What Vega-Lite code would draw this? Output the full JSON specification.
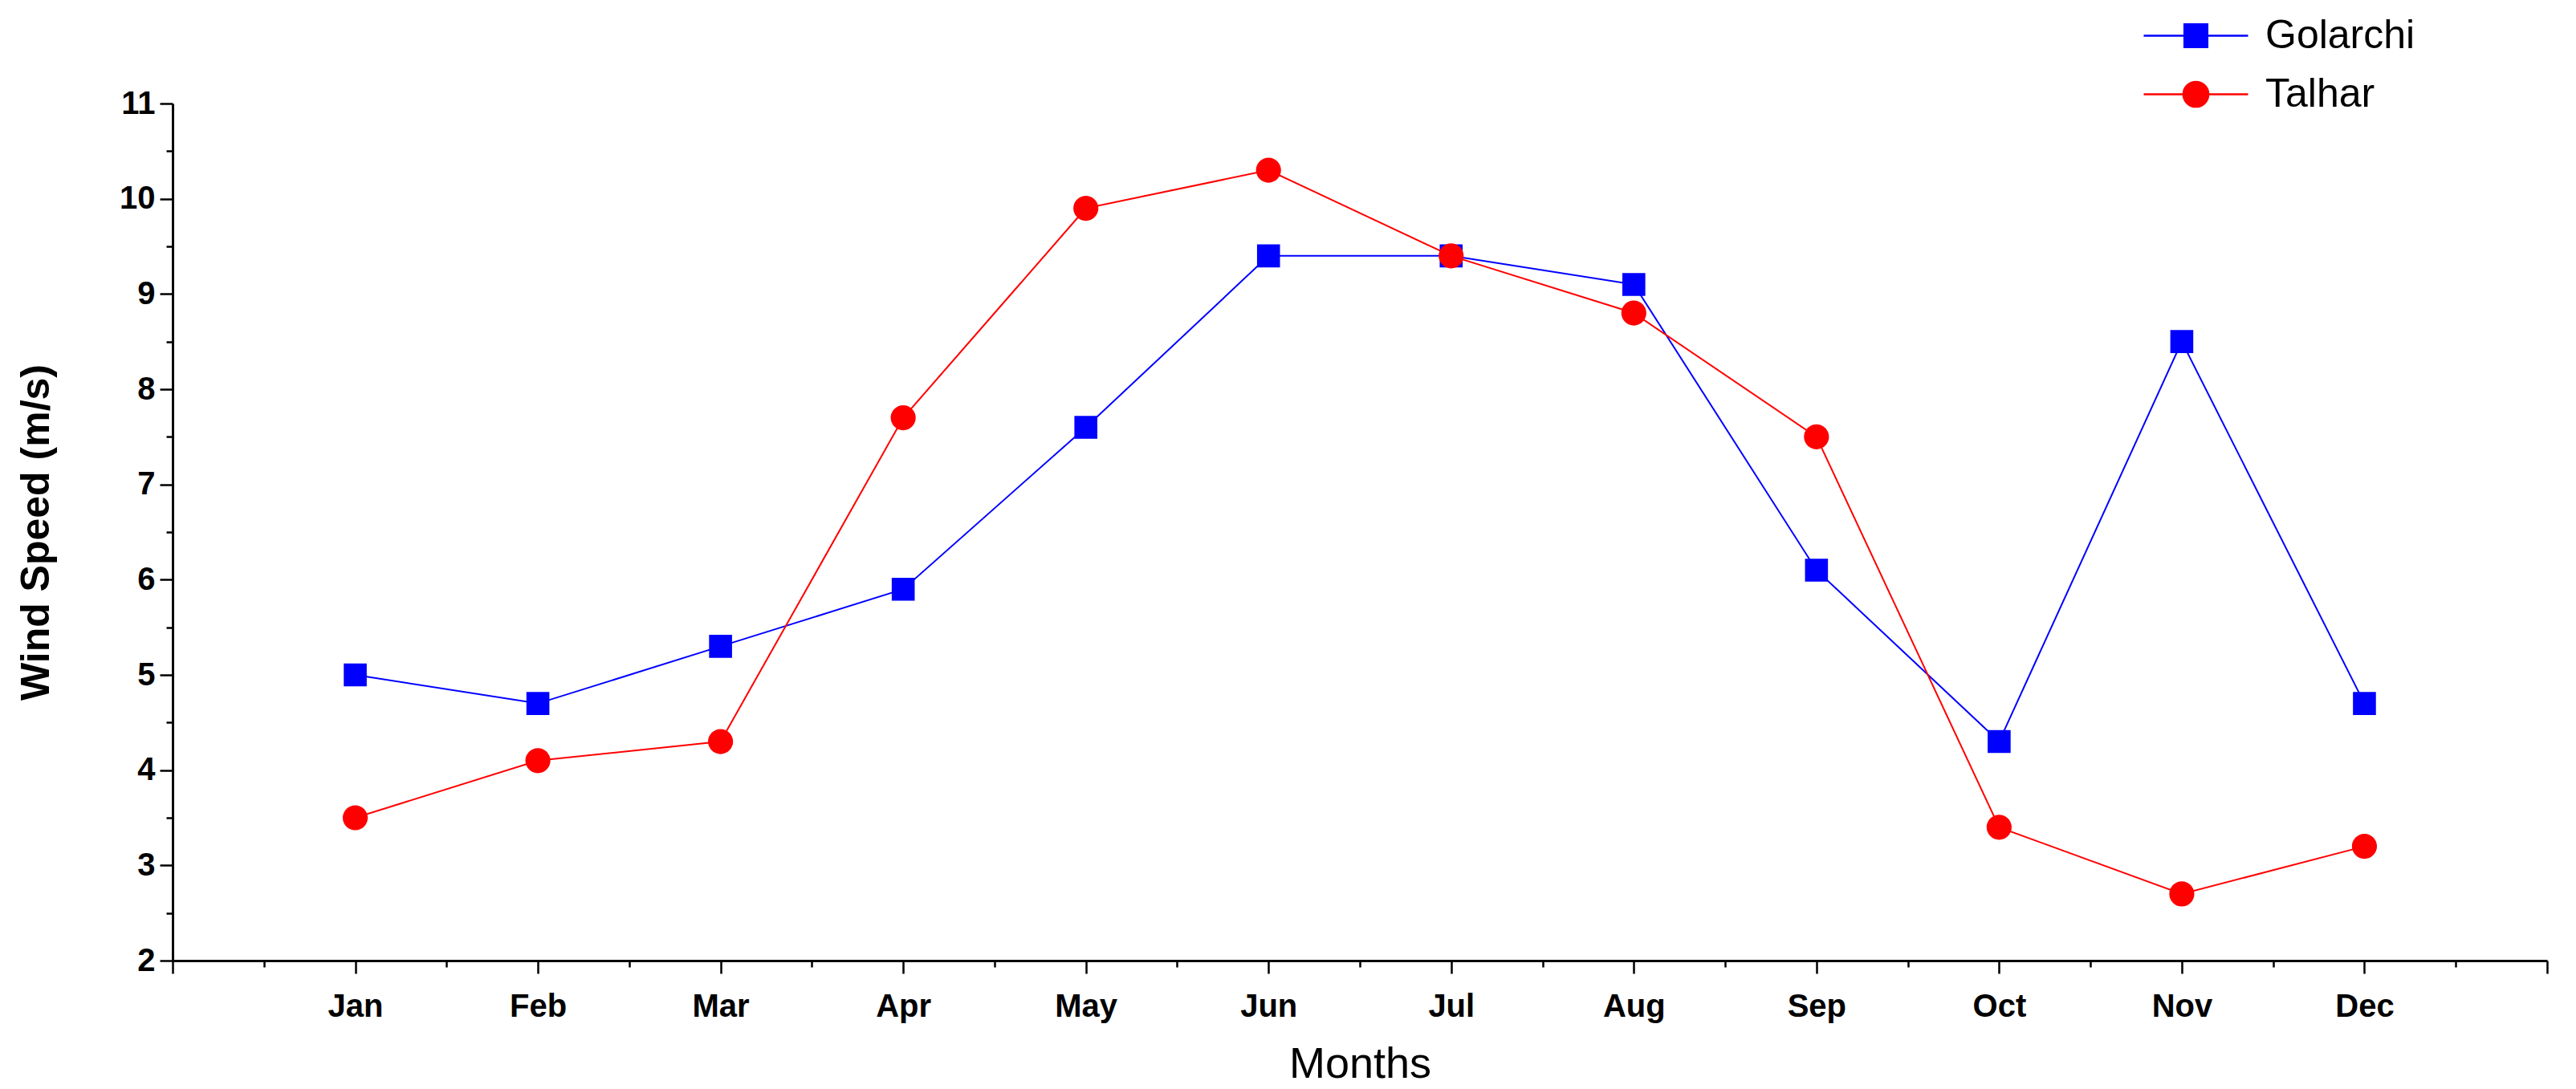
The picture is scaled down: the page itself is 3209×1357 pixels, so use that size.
{
  "$schema": "https://vega.github.io/schema/vega-lite/v6.json",
  "width": 2958,
  "height": 1068,
  "autosize": {"type": "none"},
  "padding": {"left": 215, "top": 129, "right": 36, "bottom": 160},
  "background": "white",
  "config": {
    "view": {"stroke": null},
    "font": "Liberation Sans",
    "legend": {
      "orient": "none",
      "legendX": 2489,
      "legendY": -116,
      "title": null,
      "labelFontSize": 50,
      "labelFont": "Liberation Sans",
      "labelColor": "black",
      "labelLimit": 0,
      "symbolSize": 3600,
      "symbolStrokeWidth": 2.5,
      "rowPadding": 16,
      "labelOffset": 55,
      "symbolOpacity": 1
    }
  },
  "data": {
    "values": [
      {"m": 1, "site": "Golarchi", "v": 5.0},
      {"m": 2, "site": "Golarchi", "v": 4.7},
      {"m": 3, "site": "Golarchi", "v": 5.3},
      {"m": 4, "site": "Golarchi", "v": 5.9},
      {"m": 5, "site": "Golarchi", "v": 7.6},
      {"m": 6, "site": "Golarchi", "v": 9.4},
      {"m": 7, "site": "Golarchi", "v": 9.4},
      {"m": 8, "site": "Golarchi", "v": 9.1},
      {"m": 9, "site": "Golarchi", "v": 6.1},
      {"m": 10, "site": "Golarchi", "v": 4.3},
      {"m": 11, "site": "Golarchi", "v": 8.5},
      {"m": 12, "site": "Golarchi", "v": 4.7},
      {"m": 1, "site": "Talhar", "v": 3.5},
      {"m": 2, "site": "Talhar", "v": 4.1},
      {"m": 3, "site": "Talhar", "v": 4.3},
      {"m": 4, "site": "Talhar", "v": 7.7},
      {"m": 5, "site": "Talhar", "v": 9.9},
      {"m": 6, "site": "Talhar", "v": 10.3},
      {"m": 7, "site": "Talhar", "v": 9.4},
      {"m": 8, "site": "Talhar", "v": 8.8},
      {"m": 9, "site": "Talhar", "v": 7.5},
      {"m": 10, "site": "Talhar", "v": 3.4},
      {"m": 11, "site": "Talhar", "v": 2.7},
      {"m": 12, "site": "Talhar", "v": 3.2}
    ]
  },
  "layer": [
    {
      "mark": {"type": "line", "strokeWidth": 2},
      "encoding": {
        "x": {
          "field": "m", "type": "quantitative",
          "scale": {"domain": [0, 13], "nice": false, "zero": false},
          "axis": {
            "orient": "bottom",
            "values": [0, 1, 2, 3, 4, 5, 6, 7, 8, 9, 10, 11, 12, 13],
            "labelExpr": "['','Jan','Feb','Mar','Apr','May','Jun','Jul','Aug','Sep','Oct','Nov','Dec',''][datum.value]",
            "grid": false,
            "domainColor": "black", "domainWidth": 3,
            "tickColor": "black", "tickWidth": 2.5, "tickSize": 16,
            "labelFontSize": 40, "labelFontWeight": "bold", "labelColor": "black",
            "labelPadding": 21, "labelFont": "Liberation Sans",
            "title": "Months", "titleFontSize": 54, "titleFontWeight": "normal",
            "titleColor": "black", "titlePadding": 25, "titleFont": "Liberation Sans"
          }
        },
        "y": {
          "field": "v", "type": "quantitative",
          "scale": {"domain": [2, 11], "nice": false, "zero": false},
          "axis": {
            "orient": "left",
            "values": [2, 3, 4, 5, 6, 7, 8, 9, 10, 11],
            "grid": false,
            "domainColor": "black", "domainWidth": 3,
            "tickColor": "black", "tickWidth": 2.5, "tickSize": 16,
            "labelFontSize": 40, "labelFontWeight": "bold", "labelColor": "black",
            "labelPadding": 6, "labelFont": "Liberation Sans",
            "title": "Wind Speed (m/s)", "titleFontSize": 50, "titleFontWeight": "bold",
            "titleColor": "black", "titlePadding": 78, "titleFont": "Liberation Sans"
          }
        },
        "color": {
          "field": "site", "type": "nominal",
          "scale": {"domain": ["Golarchi", "Talhar"], "range": ["#0000FF", "#FF0000"]}
        }
      }
    },
    {
      "mark": {"type": "point", "filled": true, "opacity": 1},
      "encoding": {
        "x": {
          "field": "m", "type": "quantitative",
          "axis": {
            "orient": "bottom",
            "values": [0.5, 1.5, 2.5, 3.5, 4.5, 5.5, 6.5, 7.5, 8.5, 9.5, 10.5, 11.5, 12.5],
            "labels": false, "domain": false, "grid": false, "title": null,
            "tickColor": "black", "tickWidth": 2.5, "tickSize": 8
          }
        },
        "y": {
          "field": "v", "type": "quantitative",
          "axis": {
            "orient": "left",
            "values": [2.5, 3.5, 4.5, 5.5, 6.5, 7.5, 8.5, 9.5, 10.5],
            "labels": false, "domain": false, "grid": false, "title": null,
            "tickColor": "black", "tickWidth": 2.5, "tickSize": 8
          }
        },
        "color": {
          "field": "site", "type": "nominal",
          "scale": {"domain": ["Golarchi", "Talhar"], "range": ["#0000FF", "#FF0000"]}
        },
        "shape": {
          "field": "site", "type": "nominal",
          "scale": {
            "domain": ["Golarchi", "Talhar"],
            "range": [
              "M-2.1667,0H2.1667M-0.4767,-0.4767H0.4767V0.4767H-0.4767Z",
              "M-2.1667,0H2.1667M0.52,0A0.52,0.52,0,1,1,-0.52,0A0.52,0.52,0,1,1,0.52,0Z"
            ]
          },
          "legend": {
            "encode": {
              "symbols": {"update": {"stroke": {"scale": "color", "field": "value"}, "strokeWidth": {"value": 2.5}}}
            }
          }
        },
        "size": {"value": 3600}
      }
    }
  ],
  "resolve": {"axis": {"x": "independent", "y": "independent"}}
}
